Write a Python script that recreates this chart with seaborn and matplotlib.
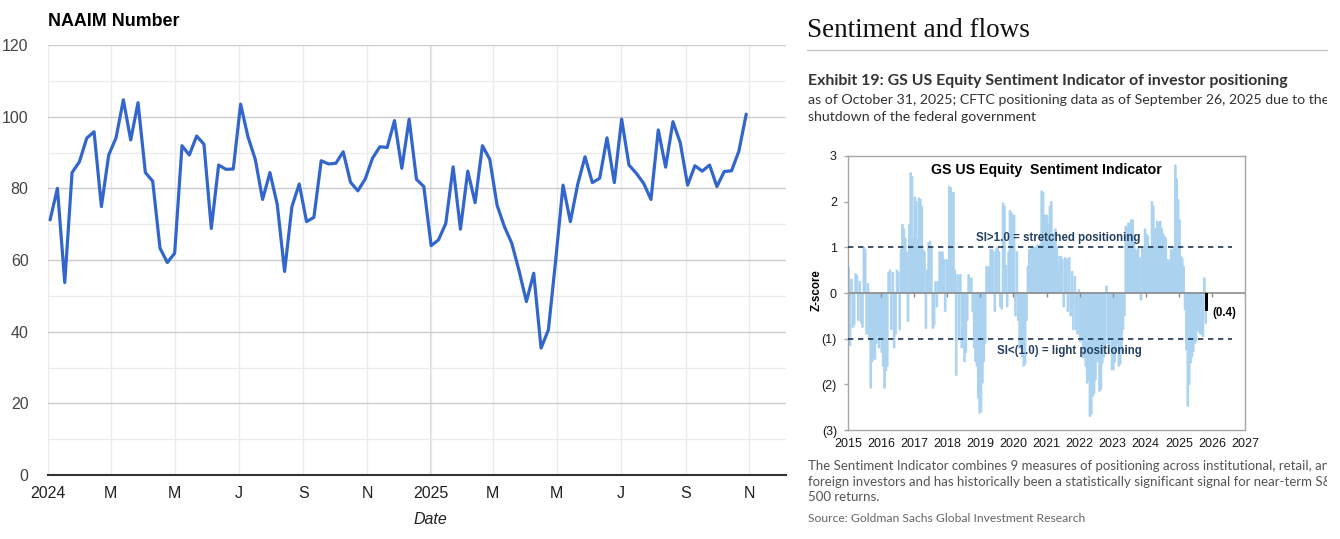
import numpy as np
import pandas as pd
import matplotlib
matplotlib.use("Agg")
import matplotlib.pyplot as plt
from matplotlib.lines import Line2D
import seaborn as sns

W, H = 1340, 539

# ---- NAAIM exposure index (weekly) ----
naaim_start = "2024-01-03"
naaim_values = [
    71.2, 80.0, 53.7, 84.4, 87.4, 94.0, 95.8, 74.9, 89.3, 94.1, 104.7, 93.5,
    103.9, 84.4, 82.0, 63.3, 59.3, 61.9, 91.9, 89.3, 94.6, 92.3, 68.8, 86.5,
    85.3, 85.4, 103.5, 94.4, 88.1, 76.9, 84.4, 75.5, 56.8, 74.9, 81.2, 70.7,
    71.9, 87.7, 86.8, 87.0, 90.2, 81.7, 79.3, 82.6, 88.4, 91.6, 91.4, 98.9,
    85.6, 99.3, 82.5, 80.5, 64.0, 65.6, 70.2, 86.0, 68.6, 84.8, 76.0, 91.9,
    88.1, 75.3, 69.3, 64.7, 57.0, 48.4, 56.3, 35.4, 40.5, 60.0, 80.9, 70.7,
    81.1, 88.8, 81.6, 82.8, 94.1, 81.6, 99.3, 86.5, 84.2, 81.4, 76.9, 96.3,
    85.9, 98.6, 92.7, 80.9, 86.3, 84.8, 86.5, 80.5, 84.7, 84.9, 90.4, 100.7,
]
naaim_tick_dates = ["2024-01-01", "2024-03-01", "2024-05-01", "2024-07-01",
                    "2024-09-01", "2024-11-01", "2025-01-01", "2025-03-01",
                    "2025-05-01", "2025-07-01", "2025-09-01", "2025-11-01"]
naaim_tick_labels = ["2024", "M", "M", "J", "S", "N", "2025", "M", "M", "J", "S", "N"]

# ---- GS US Equity Sentiment Indicator (z-score, semi-monthly) ----
gs_2015 = [0.55, -1.15, 0.3, -0.75, -0.7, 0.42, 0.38, -0.6, 0.25, -0.65, -0.75, 1.0,
           0.95, -0.9, 0.2, -1.0, -2.08, -1.5, -1.42, -1.45, -1.1, -0.9, -1.2, -1.0]
gs_2016 = [-1.3, -1.6, -2.08, -1.7, -1.6, 0.45, 0.5, -0.8, 0.45, -1.2, -0.9, 0.5,
           0.45, -0.8, 0.95, 1.5, 1.4, 1.2, 0.9, -0.62, 1.5, 2.63, 2.55, 1.2]
gs_2017 = [2.1, 2.0, 1.17, 2.08, 2.05, 1.9, 0.95, 0.9, -0.77, 0.5, 1.1, 1.13,
           1.0, -0.77, -0.7, 0.25, -0.3, 0.25, 0.9, 0.85, 0.9, 0.73, -0.4, 0.73]
gs_2018 = [0.7, 2.33, 2.3, 2.2, 2.2, 0.5, -1.8, 0.4, -1.0, 0.4, -1.2, -0.9,
           -1.5, -1.3, -0.6, 0.4, 0.25, 0.33, -0.4, -1.2, -1.5, -1.6, -2.3, -2.63]
gs_2019 = [-2.6, -1.97, -1.5, -1.1, 0.58, 0.5, 0.58, 0.95, 0.95, 0.9, -0.4, 0.95,
           1.0, 0.9, -0.3, -0.35, 1.97, 1.9, 0.6, -0.3, 0.9, 1.8, 1.75, 1.7]
gs_2020 = [1.7, -0.5, 0.9, -0.6, -1.2, -1.2, -1.4, -1.6, -1.55, -0.6, 0.58, 0.95,
           0.95, 1.0, 0.95, 1.0, 1.0, 1.05, 1.0, 1.05, 2.23, 2.2, 1.7, 1.7]
gs_2021 = [1.7, 1.5, 1.9, 2.0, 1.3, 1.0, 1.4, 1.0, 0.58, 0.8, 0.8, 0.73,
           -0.3, 0.77, 0.75, -0.4, 0.77, -0.5, 0.47, -0.8, 0.36, -0.8, -0.9, 0.07]
gs_2022 = [-1.06, -1.0, -1.42, -1.4, -1.6, -1.97, -1.9, -2.7, -2.65, -2.26, -2.2, -1.9,
           -1.45, -1.5, -2.15, -2.1, -1.53, -1.4, -1.17, 0.15, -1.1, -1.2, -1.0, -1.68]
gs_2023 = [-1.68, -1.5, -1.24, -1.1, -1.6, -1.55, -1.3, -0.8, -0.5, 1.46, 1.4, 1.53,
           1.5, 1.6, 1.6, 1.2, 0.95, 0.9, 1.0, 0.77, -0.15, 1.0, 0.95, 1.4]
gs_2024 = [1.28, 1.25, 1.0, 1.0, 2.0, 1.9, 1.42, 1.4, 1.57, 1.5, 1.57, 1.42,
           1.3, 1.24, 1.2, 0.73, 0.7, 0.73, 0.95, 0.9, 1.0, 2.8, 2.5, 2.04]
gs_2025 = [1.6, 0.8, 0.75, 0.58, -0.36, -1.24, -2.48, -2.0, -1.53, -1.4, -1.28, -1.1,
           -1.05, -0.8, -0.85, -0.9, -0.9, -0.95, 0.33, -0.66]
gs_latest = -0.4
gs_latest_date = 2025 + 303 / 365
gs_years = list(range(2015, 2028))
gs_yticks = [-3, -2, -1, 0, 1, 2, 3]
gs_ytick_labels = ["(3)", "(2)", "(1)", "0", "1", "2", "3"]

# ---- frames ----
naaim = pd.DataFrame({
    "date": pd.date_range(naaim_start, periods=len(naaim_values), freq="7D"),
    "value": naaim_values,
})

gs_all = (gs_2015 + gs_2016 + gs_2017 + gs_2018 + gs_2019 + gs_2020 +
          gs_2021 + gs_2022 + gs_2023 + gs_2024 + gs_2025)
gs = pd.DataFrame({"t": 2015 + (np.arange(len(gs_all)) + 0.5) / 24, "z": gs_all})

sns.set_theme(style="white")
plt.rcParams["font.family"] = ["Liberation Sans", "DejaVu Sans"]

fig = plt.figure(figsize=(W / 100, H / 100), dpi=100)
fig.patch.set_facecolor("white")


def fx(x):
    return x / W


def fy(y):
    return 1 - y / H


# ================= left: NAAIM =================
ax1 = fig.add_axes([fx(48), fy(475), (786 - 48) / W, 430 / H])
sns.lineplot(data=naaim, x="date", y="value", ax=ax1, color="#3366cc", linewidth=2.3)

tick_dates = pd.to_datetime(naaim_tick_dates)
ax1.set_xlim(tick_dates[0], tick_dates[0] + pd.Timedelta(days=705))
ax1.set_ylim(0, 120)
ax1.set_yticks(range(0, 121, 20))
ax1.set_yticks(range(10, 120, 20), minor=True)
ax1.set_xticks(tick_dates)
ax1.set_xticklabels(naaim_tick_labels)
ax1.grid(True, axis="y", which="major", color="#cccccc", linewidth=1)
ax1.grid(True, axis="y", which="minor", color="#ebebeb", linewidth=1)
ax1.grid(True, axis="x", which="major", color="#ebebeb", linewidth=1)
for d in (tick_dates[0], tick_dates[6]):
    ax1.axvline(d, color="#cccccc", linewidth=1.2, zorder=0.5)
ax1.set_axisbelow(True)
for s in ("top", "right", "left"):
    ax1.spines[s].set_visible(False)
ax1.spines["bottom"].set_color("#333333")
ax1.spines["bottom"].set_linewidth(1.5)
ax1.tick_params(axis="both", which="both", length=0)
ax1.tick_params(axis="y", labelsize=11.5, pad=14, labelcolor="#444444")
ax1.tick_params(axis="x", labelsize=11.5, pad=8, labelcolor="#222222")
ax1.set_xlabel("")
ax1.set_ylabel("")

fig.text(fx(48), fy(22), "NAAIM Number", fontsize=12.9, fontweight="bold",
         va="center", ha="left", color="black")
fig.text(fx(430), fy(520), "Date", fontsize=11.5, fontstyle="italic",
         va="center", ha="center", color="#222222")

# ================= right: report page =================
ax_txt = fig.add_axes([fx(800), 0, (1327 - 800) / W, 1])
ax_txt.set_axis_off()
ax_txt.patch.set_alpha(0)


def page_text(x, y, s, **kw):
    ax_txt.text(fx(x), fy(y), s, transform=fig.transFigure, clip_on=True, **kw)


page_text(807, 37, "Sentiment and flows", fontsize=19.5, family="Liberation Serif",
          color="#111111", va="baseline")
fig.add_artist(Line2D([fx(807), fx(1327)], [fy(50), fy(50)], transform=fig.transFigure,
                      color="#c4c4c4", linewidth=1))
page_text(808, 81, "Exhibit 19: GS US Equity Sentiment Indicator of investor positioning",
          fontsize=11.4, family="Lato", fontweight="bold", color="#333333", va="center")
page_text(808, 100, "as of October 31, 2025; CFTC positioning data as of September 26, 2025 due to the",
          fontsize=10.2, family="Lato", color="#333333", va="center")
page_text(808, 117, "shutdown of the federal government",
          fontsize=10.2, family="Lato", color="#333333", va="center")
page_text(808, 466, "The Sentiment Indicator combines 9 measures of positioning across institutional, retail, and",
          fontsize=9.55, family="Lato", color="#555555", va="center")
page_text(808, 482, "foreign investors and has historically been a statistically significant signal for near-term S&P",
          fontsize=9.55, family="Lato", color="#555555", va="center")
page_text(808, 497, "500 returns.", fontsize=9.55, family="Lato", color="#555555", va="center")
page_text(808, 518, "Source: Goldman Sachs Global Investment Research",
          fontsize=8.7, family="Lato", color="#666666", va="center")

# ---- inner chart ----
ax2 = fig.add_axes([fx(848), fy(430), 397 / W, 274 / H])
bar_color = "#abd3f0"
ax2.bar(gs["t"], gs["z"], width=1 / 24, color=bar_color, edgecolor=bar_color,
        linewidth=0.9, snap=False, zorder=1)
ax2.bar([gs_latest_date], [gs_latest], width=0.085, color="black", linewidth=0, zorder=3)

ax2.set_xlim(gs_years[0], gs_years[-1])
ax2.set_ylim(-3, 3)
ax2.set_xticks(gs_years)
ax2.set_xticklabels([str(y) for y in gs_years])
ax2.set_yticks(gs_yticks)
ax2.set_yticklabels(gs_ytick_labels)
ax2.axhline(0, color="#8c8c8c", linewidth=1.2, zorder=2)
ax2.vlines(gs_years, -0.08, 0, color="#8c8c8c", linewidth=1, zorder=2)
ax2.hlines([1, -1], gs_years[0], 2026.6, colors="#1d3553", linewidth=1.2,
           linestyles=(0, (3.2, 2.8)), zorder=4)
for s in ax2.spines.values():
    s.set_visible(True)
    s.set_color("#a6a6a6")
    s.set_linewidth(1)
ax2.tick_params(axis="x", length=0, labelsize=9, pad=6, labelcolor="#1a1a1a")
ax2.tick_params(axis="y", length=3, width=1, color="#a6a6a6", labelsize=9, pad=5,
                labelcolor="#1a1a1a", left=True)
ax2.set_xlabel("")
ax2.set_ylabel("")
ax2.grid(False)

ax2.text(2021.0, 2.69, "GS US Equity  Sentiment Indicator", fontsize=10.2,
         fontweight="bold", ha="center", va="center", color="black")
ax2.text(2021.35, 1.2, "SI>1.0 = stretched positioning", fontsize=8.3,
         fontweight="bold", ha="center", va="center", color="#24405f")
ax2.text(2021.7, -1.28, "SI<(1.0) = light positioning", fontsize=8.3,
         fontweight="bold", ha="center", va="center", color="#24405f")
ax2.text(2026.0, -0.43, "(0.4)", fontsize=8.3, fontweight="bold",
         ha="left", va="center", color="black")
fig.text(fx(817), fy(290), "Z-score", rotation=90, fontsize=8.3, fontweight="bold",
         ha="center", va="center", color="black")

fig.savefig("out.png", dpi=100, facecolor="white")
